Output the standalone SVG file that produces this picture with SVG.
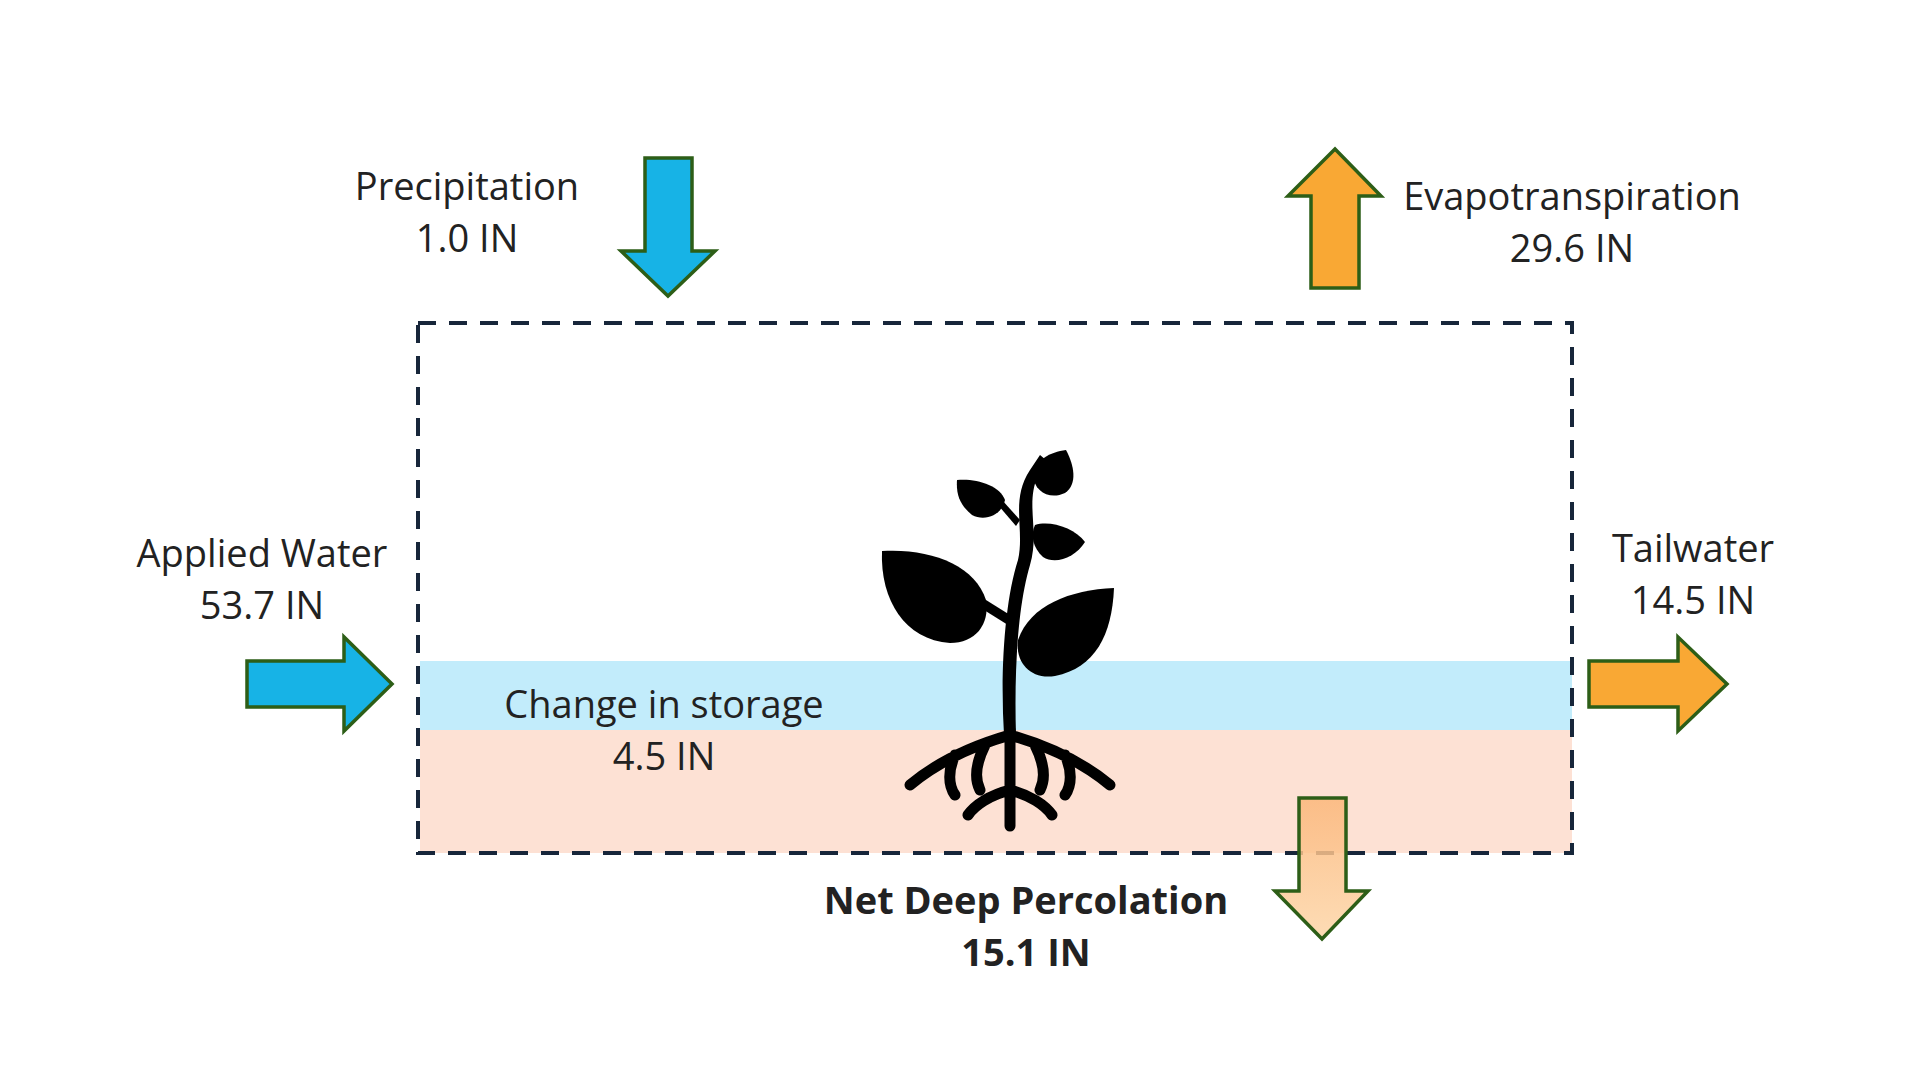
<svg xmlns="http://www.w3.org/2000/svg" width="1920" height="1080" viewBox="0 0 1920 1080">
<defs>
<linearGradient id="pg" x1="0" y1="0" x2="0" y2="1"><stop offset="0" stop-color="#fbb77a"/><stop offset="1" stop-color="#fdd6a8"/></linearGradient>
<style>
.t{font-family:"Open Sans","Liberation Sans",sans-serif;font-size:38px;fill:#222;text-anchor:middle}
.b{font-weight:bold}
.arr{stroke:#2d5e17;stroke-width:3.5;stroke-linejoin:miter}
.blue{fill:#17b3e6}.orange{fill:#f9a834}
</style>
</defs>
<rect width="1920" height="1080" fill="#fff"/>
<g id="soil">
<rect x="420" y="661" width="1152" height="69" fill="#c2ecfb"/>
<rect x="420" y="730" width="1152" height="123" fill="#fde1d4"/>
</g>
<g id="plant" fill="#000">
<path d="M1004 735 C1000 670 1005 600 1018 560 C1025 530 1010 500 1030 470 L1040 455 L1046 460 L1038 475 C1025 505 1040 530 1030 565 C1018 605 1014 670 1016 735 Z"/>
<path d="M882 551 C930 548 975 565 986 600 C990 625 975 643 950 643 C905 640 880 600 882 551 Z"/>
<path d="M986 600 L1010 615 L1008 625 L984 610 Z"/>
<path d="M1114 588 C1070 590 1030 605 1018 640 C1015 662 1030 680 1055 676 C1095 668 1112 635 1114 588 Z"/>
<path d="M1066 450 C1050 452 1035 460 1033 475 C1034 492 1050 500 1065 493 C1078 484 1074 465 1066 450 Z"/>
<path d="M1035 525 C1050 520 1075 528 1085 542 C1075 558 1055 565 1043 557 C1033 548 1030 535 1035 525 Z"/>
<path d="M957 480 C975 478 1000 485 1005 500 C1002 515 985 522 972 515 C960 505 956 495 957 480 Z"/>
<path d="M1002 500 L1020 520 L1016 526 L998 505 Z"/>
<path d="M1010 730 L1010 826 M1010 790 C990 795 975 805 968 815 M1010 790 C1030 795 1045 805 1052 815 M1010 735 C975 745 940 760 910 785 M1010 735 C1045 745 1080 760 1110 785 M955 755 C948 770 948 785 955 795 M1065 755 C1072 770 1072 785 1065 795 M985 745 C975 765 975 780 980 790 M1035 745 C1045 765 1045 780 1040 790" fill="none" stroke="#000" stroke-width="11" stroke-linecap="round"/>
</g>
<g id="boundary">
<rect x="418" y="323" width="1154" height="530" fill="none" stroke="#17263a" stroke-width="4" stroke-dasharray="18 13"/>
</g>
<g id="connectors">
<path id="precip-arrow" class="arr blue" d="M645 158 H692 V251 H715 L668 296 L621 251 H645 Z"/>
<path id="et-arrow" class="arr orange" d="M1311 288 V196 H1288 L1335 149 L1381 196 H1359 V288 Z"/>
<path id="applied-arrow" class="arr blue" d="M247 661 H344 V637 L392 684 L344 731 V707 H247 Z"/>
<path id="tail-arrow" class="arr orange" d="M1589 661 H1678 V637 L1727 684 L1678 731 V707 H1589 Z"/>
<path id="perc-arrow" class="arr" fill="url(#pg)" fill-opacity="0.85" d="M1299 798 H1346 V891 H1368 L1322 939 L1275 891 H1299 Z"/>
</g>
<g id="labels">
<text class="t" x="467" y="200">Precipitation</text><text class="t" x="467" y="252">1.0 IN</text>
<text class="t" x="1572" y="210">Evapotranspiration</text><text class="t" x="1572" y="262">29.6 IN</text>
<text class="t" x="262" y="567">Applied Water</text><text class="t" x="262" y="619">53.7 IN</text>
<text class="t" x="1693" y="562">Tailwater</text><text class="t" x="1693" y="614">14.5 IN</text>
<text class="t" x="664" y="718">Change in storage</text><text class="t" x="664" y="770">4.5 IN</text>
<text class="t b" x="1026" y="914">Net Deep Percolation</text><text class="t b" x="1026" y="966">15.1 IN</text>
</g>
</svg>
